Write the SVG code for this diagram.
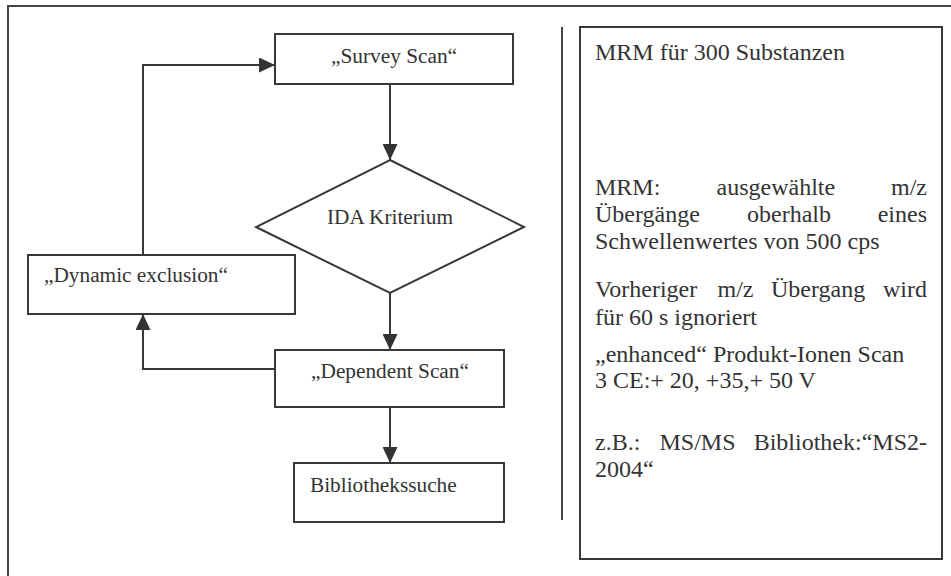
<svg xmlns="http://www.w3.org/2000/svg" width="951" height="576" viewBox="0 0 951 576">
<defs>
<style>
.box{fill:#fff;stroke:#383838;stroke-width:2}
.frame{fill:none;stroke:#444;stroke-width:2}
.con{fill:none;stroke:#383838;stroke-width:2}
.t{font-family:"Liberation Serif","Times New Roman","DejaVu Serif",serif;font-size:21.3px;fill:#333}
.r{font-family:"Liberation Serif","Times New Roman","DejaVu Serif",serif;font-size:24px;fill:#333}
</style>
<marker id="arr" viewBox="0 0 16 15" refX="16" refY="7.5" markerWidth="16" markerHeight="15" orient="auto" markerUnits="userSpaceOnUse">
<path d="M0,0 L16,7.5 L0,15 Z" fill="#333"/>
</marker>
</defs>
<rect width="951" height="576" fill="#fff"/>
<path class="frame" d="M8,576 V6 H951"/>
<line x1="562" y1="27" x2="562" y2="520" stroke="#444" stroke-width="2"/>

<g id="connectors">
<path class="con" d="M143,255 V65 H275" marker-end="url(#arr)"/>
<path class="con" d="M390,84 V160" marker-end="url(#arr)"/>
<path class="con" d="M390,293 V350" marker-end="url(#arr)"/>
<path class="con" d="M275,369 H143 V314" marker-end="url(#arr)"/>
<path class="con" d="M390,407 V463" marker-end="url(#arr)"/>
</g>

<g id="survey">
<rect class="box" x="275" y="34" width="238" height="50"/>
<text class="t" x="394" y="63" text-anchor="middle">„Survey Scan“</text>
</g>
<g id="ida">
<polygon class="box" points="390,160 524,227 390,293 256,227"/>
<text class="t" x="390" y="224" text-anchor="middle">IDA Kriterium</text>
</g>
<g id="dynamic">
<rect class="box" x="28" y="255" width="267" height="59"/>
<text class="t" x="44" y="282">„Dynamic exclusion“</text>
</g>
<g id="dependent">
<rect class="box" x="275" y="350" width="229" height="57"/>
<text class="t" x="390" y="378" text-anchor="middle">„Dependent Scan“</text>
</g>
<g id="biblio">
<rect class="box" x="294" y="463" width="210" height="59"/>
<text class="t" x="310" y="492">Bibliothekssuche</text>
</g>

<g id="info">
<rect class="box" x="580" y="27" width="362" height="532"/>
<text class="r" x="595" y="60">MRM für 300 Substanzen</text>
<text class="r" y="195"><tspan x="595">MRM:</tspan><tspan x="716.5">ausgewählte</tspan><tspan x="927" text-anchor="end">m/z</tspan></text>
<text class="r" y="222"><tspan x="595">Übergänge</tspan><tspan x="747">oberhalb</tspan><tspan x="927" text-anchor="end">eines</tspan></text>
<text class="r" x="595" y="249">Schwellenwertes von 500 cps</text>
<text class="r" y="297"><tspan x="595">Vorheriger</tspan><tspan x="717.5">m/z</tspan><tspan x="771">Übergang</tspan><tspan x="927" text-anchor="end">wird</tspan></text>
<text class="r" x="595" y="325">für 60 s ignoriert</text>
<text class="r" x="595" y="362">„enhanced“ Produkt-Ionen Scan</text>
<text class="r" x="595" y="388">3 CE:+ 20, +35,+ 50 V</text>
<text class="r" y="450"><tspan x="595">z.B.:</tspan><tspan x="659.5">MS/MS</tspan><tspan x="927" text-anchor="end">Bibliothek:“MS2-</tspan></text>
<text class="r" x="595" y="477">2004“</text>
</g>
</svg>
